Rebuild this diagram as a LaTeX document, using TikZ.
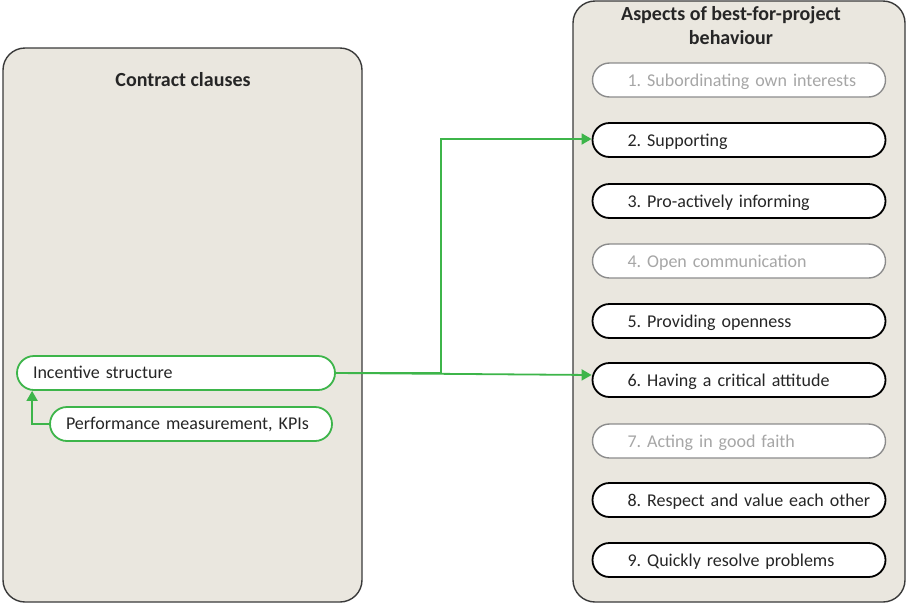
\documentclass[tikz,border=0pt]{standalone}
\usepackage{fontspec}
\setmainfont{Carlito}
\usetikzlibrary{arrows.meta}
\frenchspacing
\definecolor{panelfill}{HTML}{EAE7DF}
\definecolor{paneldraw}{HTML}{3A3A3A}
\definecolor{linkgreen}{HTML}{3DB54A}
\definecolor{mutedtext}{HTML}{A6A6A6}
\definecolor{muteddraw}{HTML}{8C8C8C}
\tikzset{
  panel/.style={draw=paneldraw, fill=panelfill, line width=1.4pt, rounded corners=22pt},
  paneltitle/.style={font=\bfseries\fontsize{20}{24}\selectfont, align=center, text=black!85},
  aspect/.style={draw=black, fill=white, line width=1.8pt, rounded corners=17pt,
    minimum width=293pt, minimum height=34pt, text width=270pt, align=left,
    inner xsep=0pt, inner ysep=0pt, text height=15pt, text depth=2pt,
    font=\fontsize{18}{21}\selectfont, text=black!85,
    execute at begin node={\hspace*{23.5pt}}},
  aspectmuted/.style={aspect, draw=muteddraw, line width=1.4pt, text=mutedtext},
  clause/.style={draw=linkgreen, fill=white, line width=1.8pt, rounded corners=17pt,
    minimum height=34pt, align=left, inner xsep=0pt, inner ysep=0pt,
    text height=14pt, text depth=3pt,
    font=\fontsize{18}{21}\selectfont, text=black!85},
  link/.style={draw=linkgreen, line width=1.8pt, -{Triangle[length=10pt,width=11pt]}}
}
\begin{document}
\begin{tikzpicture}[x=1pt,y=-1pt]
\useasboundingbox (0,0) rectangle (906,603);

% left panel
\path[panel] (3,48) rectangle (362,602);
\node[paneltitle] (lefttitle) at (183,80) {Contract clauses};

% right panel
\path[panel] (573,1) rectangle (905,602);
\node[paneltitle] (righttitle) at (731,26) {Aspects of best-for-project\\behaviour};

% behaviour aspects
\node[aspectmuted] (b1) at (739,80)  {1. Subordinating own interests};
\node[aspect]      (b2) at (739,140) {2. Supporting};
\node[aspect]      (b3) at (739,201) {3. Pro-actively informing};
\node[aspectmuted] (b4) at (739,261) {4. Open communication};
\node[aspect]      (b5) at (739,321) {5. Providing openness};
\node[aspect]      (b6) at (739,380) {6. Having a critical attitude};
\node[aspectmuted] (b7) at (739,441) {7. Acting in good faith};
\node[aspect]      (b8) at (739,500) {8. Respect and value each other};
\node[aspect]      (b9) at (739,560) {9. Quickly resolve problems};

% contract clauses
\node[clause, minimum width=318pt, text width=286pt] (inc) at (176,373) {Incentive structure};
\node[clause, minimum width=282pt, text width=250pt] (kpi) at (191,424) {Performance measurement, KPIs};

% connectors
\coordinate (kink) at (441,373);
\draw[link] (kpi.west) -| ([xshift=16pt]inc.south west);
\draw[link] (inc.east) -- (kink) |- ([yshift=1pt]b2.west);
\draw[link] (inc.east) -- ([yshift=5pt]b6.west);
\end{tikzpicture}
\end{document}
